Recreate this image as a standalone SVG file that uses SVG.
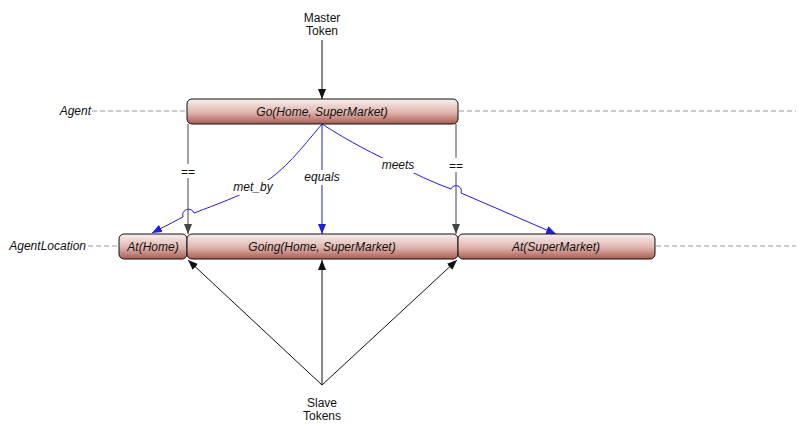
<svg xmlns="http://www.w3.org/2000/svg" width="802" height="430" viewBox="0 0 802 430">
<style>
.lbl{font-family:"Liberation Sans",Arial,sans-serif;font-size:12px;font-style:italic;fill:#111}
.plain{font-family:"Liberation Sans",Arial,sans-serif;font-size:12px;fill:#111}
.bar{fill:url(#g);stroke:#111;stroke-width:1}
.dash{stroke:#9a9a9a;stroke-width:1;stroke-dasharray:5,3;fill:none}
.blk{stroke:#111;stroke-width:1;fill:none}
.gry{stroke:#444;stroke-width:1;fill:none}
.blu{stroke:#1e1ee0;stroke-width:1;fill:none}
</style>
<defs>
<linearGradient id="g" x1="0" y1="0" x2="0" y2="1">
<stop offset="0" stop-color="#f8f0ee"/>
<stop offset="0.55" stop-color="#e0b3ac"/>
<stop offset="1" stop-color="#a85c52"/>
</linearGradient>
<marker id="ab" markerUnits="userSpaceOnUse" markerWidth="10" markerHeight="10" viewBox="0 0 10 10" refX="10" refY="5" orient="auto"><path d="M0,1 L10,5 L0,9 Z" fill="#111"/></marker>
<marker id="ag" markerUnits="userSpaceOnUse" markerWidth="10" markerHeight="10" viewBox="0 0 10 10" refX="10" refY="5" orient="auto"><path d="M0,1 L10,5 L0,9 Z" fill="#444"/></marker>
<marker id="au" markerUnits="userSpaceOnUse" markerWidth="10" markerHeight="10" viewBox="0 0 10 10" refX="10" refY="5" orient="auto"><path d="M0,1 L10,5 L0,9 Z" fill="#1e1ee0"/></marker>
</defs>
<rect width="802" height="430" fill="#fff"/>
<g id="lanes">
<text class="lbl" x="91" y="115" text-anchor="end">Agent</text>
<line class="dash" x1="92" y1="111" x2="187" y2="111"/>
<line class="dash" x1="459" y1="111" x2="796" y2="111"/>
<text class="lbl" x="86" y="250" text-anchor="end">AgentLocation</text>
<line class="dash" x1="88" y1="246" x2="119" y2="246"/>
<line class="dash" x1="656" y1="246" x2="796" y2="246"/>
</g>
<g id="connectors">
<line class="blk" x1="322" y1="40" x2="322" y2="99" marker-end="url(#ab)"/>
<line class="gry" x1="188" y1="124" x2="188" y2="234" marker-end="url(#ag)"/>
<line class="gry" x1="456" y1="124" x2="456" y2="234" marker-end="url(#ag)"/>
<path class="blu" d="M322,124 C300,150 285,170 262,184 C240,196 215,205 194,213 A5,5 0 0 0 183,217 L152,233" marker-end="url(#au)"/>
<line class="blu" x1="322" y1="124" x2="322" y2="234" marker-end="url(#au)"/>
<path class="blu" d="M322,124 C350,142 375,155 398,165 C415,174 432,182 451,189 A5,5 0 0 1 461,193 L556,234" marker-end="url(#au)"/>
<line class="blk" x1="322" y1="385" x2="188" y2="260" marker-end="url(#ab)"/>
<line class="blk" x1="322" y1="385" x2="322" y2="260" marker-end="url(#ab)"/>
<line class="blk" x1="322" y1="385" x2="457" y2="260" marker-end="url(#ab)"/>
<rect x="180" y="164" width="16" height="14" fill="#fff"/>
<text class="plain" x="188" y="176" text-anchor="middle">==</text>
<rect x="448" y="158" width="16" height="14" fill="#fff"/>
<text class="plain" x="456" y="170" text-anchor="middle">==</text>
<rect x="232" y="180" width="42" height="15" fill="#fff"/>
<text class="lbl" x="253" y="191" text-anchor="middle">met_by</text>
<rect x="303" y="170" width="38" height="15" fill="#fff"/>
<text class="lbl" x="322" y="181" text-anchor="middle">equals</text>
<rect x="380" y="158" width="36" height="15" fill="#fff"/>
<text class="lbl" x="398" y="169" text-anchor="middle">meets</text>
</g>
<g id="master">
<text class="plain" x="322" y="22" text-anchor="middle">Master</text>
<text class="plain" x="322" y="35" text-anchor="middle">Token</text>
</g>
<g id="go">
<rect class="bar" x="187" y="99" width="271" height="25" rx="5"/>
<text class="lbl" x="322" y="116" text-anchor="middle">Go(Home, SuperMarket)</text>
</g>
<g id="athome">
<rect class="bar" x="119" y="234" width="68" height="25" rx="5"/>
<text class="lbl" x="153" y="251" text-anchor="middle">At(Home)</text>
</g>
<g id="going">
<rect class="bar" x="187" y="234" width="271" height="25" rx="5"/>
<text class="lbl" x="322" y="251" text-anchor="middle">Going(Home, SuperMarket)</text>
</g>
<g id="atsupermarket">
<rect class="bar" x="458" y="234" width="197" height="25" rx="5"/>
<text class="lbl" x="556" y="251" text-anchor="middle">At(SuperMarket)</text>
</g>
<g id="slave">
<text class="plain" x="322" y="407" text-anchor="middle">Slave</text>
<text class="plain" x="322" y="420" text-anchor="middle">Tokens</text>
</g>
</svg>
